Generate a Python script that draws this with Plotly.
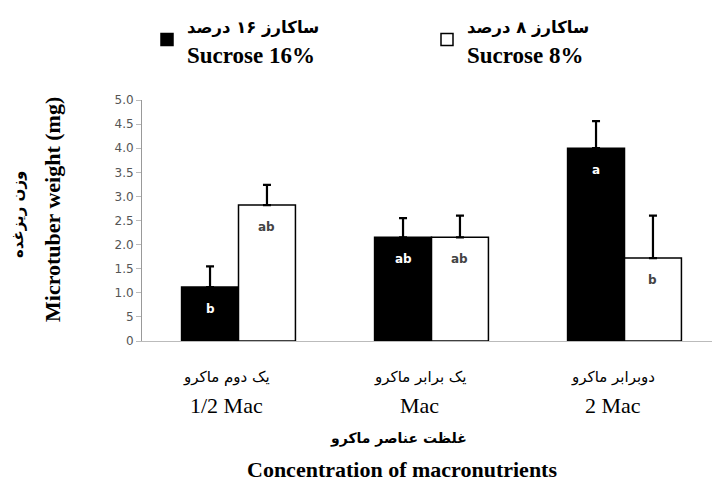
import plotly.graph_objects as go

categories_fa = ["یک دوم ماکرو", "یک برابر ماکرو", "دوبرابر ماکرو"]
categories_en = ["1/2 Mac", "Mac", "2 Mac"]
sucrose16 = [1.12, 2.15, 4.0]
sucrose16_err = [0.43, 0.40, 0.56]
sucrose8 = [2.82, 2.15, 1.72]
sucrose8_err = [0.42, 0.45, 0.88]
letters16 = ["b", "ab", "a"]
letters8 = ["ab", "ab", "b"]
ytick_vals = [0, 0.5, 1.0, 1.5, 2.0, 2.5, 3.0, 3.5, 4.0, 4.5, 5.0]
ytick_text = ["0", "5", "1.0", "1.5", "2.0", "2.5", "3.0", "3.5", "4.0", "4.5", "5.0"]

W, H = 712, 484
L, R, T, B = 142, 0, 100, 143
pw = W - L - R
ph = H - T - B
bargap = 0.41
xs = list(range(len(categories_en)))
bw = (1 - bargap) / 2

def px_x(p):
    return (p - L) / pw

def px_y(p):
    return (H - B - p) / ph

serif = "Liberation Serif, Times New Roman, serif"
arab = "DejaVu Sans, Noto Sans, sans-serif"

def legend_label(fa, en):
    return ("<span style='font-family:DejaVu Sans;font-size:16.5px'><b>%s</b></span><br>"
            "<b>%s</b>" % (fa, en))

fig = go.Figure()
fig.add_trace(go.Bar(
    x=xs, y=sucrose16, name=legend_label("ساکارز ۱۶ درصد", "Sucrose 16%"),
    marker=dict(color="black", line=dict(color="black", width=1.5)),
    error_y=dict(type="data", array=sucrose16_err, arrayminus=[0]*3, symmetric=False,
                 color="black", thickness=2.2, width=4),
))
fig.add_trace(go.Bar(
    x=xs, y=sucrose8, name=legend_label("ساکارز ۸ درصد", "Sucrose 8%"),
    marker=dict(color="white", line=dict(color="black", width=1.5)),
    error_y=dict(type="data", array=sucrose8_err, arrayminus=[0]*3, symmetric=False,
                 color="black", thickness=2.2, width=4),
))

C = dict(xanchor="center", yanchor="middle", showarrow=False)
ann = []
for i in xs:
    ann.append(dict(x=i - bw / 2, y=sucrose16[i], xref="x", yref="y", text="<b>%s</b>" % letters16[i],
                    yshift=-22, font=dict(color="white", size=12, family=arab), **C))
    ann.append(dict(x=i + bw / 2, y=sucrose8[i], xref="x", yref="y", text="<b>%s</b>" % letters8[i],
                    yshift=-22, font=dict(color="#444", size=12, family=arab), **C))
    ann.append(dict(x=i - 0.06, y=px_y(377), xref="x", yref="paper", text=categories_fa[i],
                    font=dict(color="black", size=15, family=arab), **C))
    ann.append(dict(x=i - 0.06, y=px_y(405), xref="x", yref="paper", text=categories_en[i],
                    font=dict(color="black", size=22, family=serif), **C))

ann.append(dict(x=px_x(398), y=px_y(438), xref="paper", yref="paper", text="<b>غلظت عناصر ماکرو</b>",
                font=dict(color="black", size=14, family=arab), **C))
ann.append(dict(x=px_x(402), y=px_y(470), xref="paper", yref="paper", text="<b>Concentration of macronutrients</b>",
                font=dict(color="black", size=22, family=serif), **C))
ann.append(dict(x=px_x(18), y=px_y(215), xref="paper", yref="paper", text="<b>وزن ریزغده</b>",
                textangle=-90, font=dict(color="black", size=15, family=arab), **C))
ann.append(dict(x=px_x(52), y=px_y(210), xref="paper", yref="paper", text="<b>Microtuber weight (mg)</b>",
                textangle=-90, font=dict(color="black", size=22, family=serif), **C))

fig.update_layout(
    width=W, height=H,
    margin=dict(l=L, r=R, t=T, b=B, autoexpand=False),
    paper_bgcolor="white", plot_bgcolor="white",
    barmode="group", bargap=bargap, bargroupgap=0,
    showlegend=True,
    legend=dict(orientation="h", xref="container", yref="container",
                x=147 / W, y=1 - 3 / H, xanchor="left", yanchor="top",
                entrywidth=235, entrywidthmode="pixels", traceorder="normal",
                itemwidth=30,
                font=dict(family=serif, size=23, color="black"), bgcolor="rgba(0,0,0,0)"),
    annotations=ann,
)
fig.update_xaxes(range=[-0.5, -0.5 + pw / 193.0], showticklabels=False, ticks="",
                 showline=True, linecolor="#bbb", linewidth=1, showgrid=False, zeroline=False,
                 tickvals=xs)
fig.update_yaxes(range=[0, 5], tickvals=ytick_vals, ticktext=ytick_text, showline=True,
                 linecolor="#999", linewidth=1, ticks="outside", ticklen=5, tickcolor="#bbb",
                 showgrid=False, zeroline=False,
                 tickfont=dict(family="DejaVu Sans, sans-serif", size=12, color="#555"))

fig.write_html("out.html", config={"displayModeBar": False},
               post_script="document.body.style.margin='0';")
